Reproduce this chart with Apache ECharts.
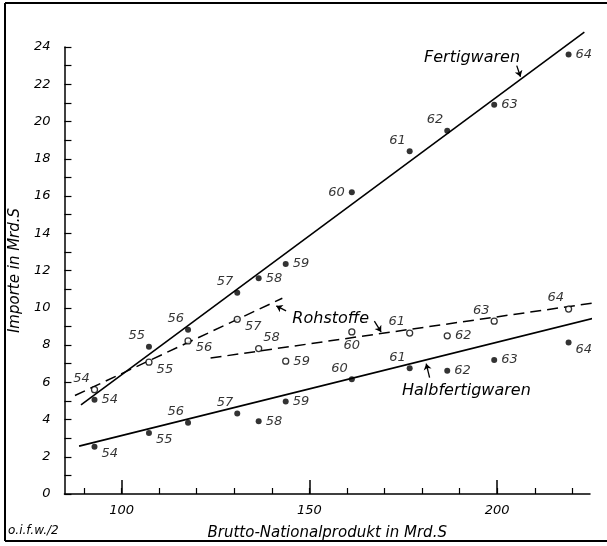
<!DOCTYPE html>
<html><head><meta charset="utf-8">
<script src="https://cdn.jsdelivr.net/npm/echarts@6/dist/echarts.min.js"></script>
<style>html,body{margin:0;padding:0;background:#fff}#c{width:607px;height:546px}</style>
</head><body><div id="c"></div>
<script>
// ---- data ----
const years = ['54','55','56','57','58','59','60','61','62','63','64'];
const gnp = [92.8,107.3,117.7,130.8,136.5,143.7,161.3,176.7,186.7,199.2,219.0];
const fertigwaren = [5.06,7.9,8.82,10.8,11.58,12.35,16.2,18.4,19.5,20.9,23.6];
const rohstoffe = [5.6,7.08,8.22,9.38,7.81,7.13,8.7,8.64,8.49,9.28,9.93];
const halbfertigwaren = [2.54,3.27,3.82,4.32,3.9,4.96,6.16,6.75,6.62,7.2,8.14];
const fertigTrend = [[89.2,4.78],[223.2,24.8]];
const rohTrend1 = [[87.6,5.29],[142.8,10.51]];
const rohTrend2 = [[123.7,7.3],[226.8,10.29]];
const halbTrend = [[88.7,2.57],[226.3,9.47]];
const xMinorTicks = [90,100,110,120,130,140,150,160,170,180,190,200,210,220];
const xMajorTicks = [100,150,200];
const yTickLabels = [0,2,4,6,8,10,12,14,16,18,20,22,24];
// label placement per point (style config)
const fertigPlace = ['r','tl','tl','tl','r','r','l','tl','tl','r','r'];
const rohPlace = ['tl','br','br','br','tr','r','b','tl','r','tl','tl'];
const halbPlace = ['br','br','tl','tl','r','r','tl','tl','r','r','br'];
// annotations [x,y,text]
const annotations = [[193.3,23.5,'Fertigwaren'],[155.7,9.47,'Rohstoffe'],[191.8,5.6,'Halbfertigwaren']];
const arrows = [
  [[205.2,23.0],[206.2,22.4]],
  [[143.8,9.83],[141.2,10.1]],
  [[167.3,9.28],[169.1,8.7]],
  [[182.0,6.25],[181.1,7.0]]
];

const FONT = 'DejaVu Sans';
function labelFor(p){
  const base = {show:true, formatter:'{b}', color:'#000', fontFamily:FONT, fontStyle:'italic', fontSize:13, distance:4};
  switch(p){
    case 'r': return Object.assign(base,{position:'right'});
    case 'l': return Object.assign(base,{position:'left'});
    case 't': return Object.assign(base,{position:'top'});
    case 'b': return Object.assign(base,{position:'bottom'});
    case 'tl': return Object.assign(base,{position:'left', offset:[3,-11]});
    case 'tr': return Object.assign(base,{position:'right', offset:[-3,-11]});
    case 'br': return Object.assign(base,{position:'right', offset:[0,7]});
  }
}
function pts(vals, place){
  return vals.map((v,i)=>({name:years[i], value:[gnp[i], v], label:labelFor(place[i])}));
}
const lineStyleSolid = {color:'#000', width:1.6};
const chart = echarts.init(document.getElementById('c'), null, {renderer:'canvas'});
const axisFont = {fontFamily:FONT, fontStyle:'italic', fontSize:13, color:'#000'};
chart.setOption({
  backgroundColor:'#fff',
  animation:false,
  grid:{left:64, right:17, top:47, bottom:45, containLabel:false},
  xAxis:[{
    type:'value', min:84.8, max:224.7,
    axisLine:{show:true, onZero:false, lineStyle:{color:'#000', width:1.5}},
    axisTick:{show:true, inside:true, length:6, customValues:xMinorTicks, lineStyle:{color:'#000', width:1.2}},
    axisLabel:Object.assign({customValues:xMajorTicks, margin:10}, axisFont),
    splitLine:{show:false},
    name:'Brutto-Nationalprodukt in Mrd.S', nameLocation:'middle', nameGap:32,
    nameTextStyle:{fontFamily:FONT, fontStyle:'italic', fontSize:15, color:'#000'}
  },{
    type:'value', min:84.8, max:224.7, position:'bottom',
    axisLine:{show:false},
    axisTick:{show:true, inside:true, length:14, customValues:xMajorTicks, lineStyle:{color:'#000', width:1.5}},
    axisLabel:{show:false}, splitLine:{show:false}
  }],
  yAxis:{
    type:'value', min:0, max:24, interval:1,
    axisLine:{show:true, lineStyle:{color:'#000', width:1.5}},
    axisTick:{show:true, inside:true, length:7, lineStyle:{color:'#000', width:1.2}},
    axisLabel:Object.assign({customValues:yTickLabels, margin:14}, axisFont),
    splitLine:{show:false},
    name:'Importe in Mrd.S', nameLocation:'middle', nameGap:34,
    nameTextStyle:{fontFamily:FONT, fontStyle:'italic', fontSize:15, color:'#000'}
  },
  series:[
    {type:'line', data:fertigTrend, symbol:'none', clip:false, lineStyle:lineStyleSolid, z:2},
    {type:'line', data:rohTrend1, symbol:'none', clip:false, lineStyle:{color:'#000', width:1.5, type:[11,6]}, z:2},
    {type:'line', data:rohTrend2, symbol:'none', clip:false, lineStyle:{color:'#000', width:1.5, type:[11,6]}, z:2},
    {type:'line', data:halbTrend, symbol:'none', clip:false, lineStyle:lineStyleSolid, z:2},
    {type:'scatter', name:'Fertigwaren', data:pts(fertigwaren, fertigPlace), symbol:'circle', symbolSize:6, itemStyle:{color:'#000'}, z:5},
    {type:'scatter', name:'Rohstoffe', data:pts(rohstoffe, rohPlace), symbol:'circle', symbolSize:6, itemStyle:{color:'#fff', borderColor:'#000', borderWidth:1.3}, z:5},
    {type:'scatter', name:'Halbfertigwaren', data:pts(halbfertigwaren, halbPlace), symbol:'circle', symbolSize:6, itemStyle:{color:'#000'}, z:5},
    {type:'scatter', data:annotations.map(a=>({name:a[2], value:[a[0],a[1]]})), symbolSize:1, itemStyle:{color:'#fff', opacity:1},
      label:{show:true, position:'top', distance:0, offset:[0,10], formatter:'{b}', fontFamily:FONT, fontStyle:'italic', fontSize:16, color:'#000'}, z:6},
    {type:'lines', coordinateSystem:'cartesian2d', polyline:false, symbol:['none','arrow'], symbolSize:6,
      lineStyle:{color:'#000', width:1.3, opacity:1}, data:arrows.map(a=>({coords:a})), z:6}
  ],
  graphic:[
    {type:'line', shape:{x1:5,y1:3,x2:607,y2:3}, style:{stroke:'#000', lineWidth:2}},
    {type:'line', shape:{x1:5,y1:3,x2:5,y2:541}, style:{stroke:'#000', lineWidth:2}},
    {type:'line', shape:{x1:5,y1:541,x2:607,y2:541}, style:{stroke:'#000', lineWidth:2}},
    {type:'text', left:8, top:525, style:{text:'o.i.f.w./2', fontFamily:FONT, fontStyle:'italic', fontSize:12, fill:'#000'}}
  ]
});
</script></body></html>
